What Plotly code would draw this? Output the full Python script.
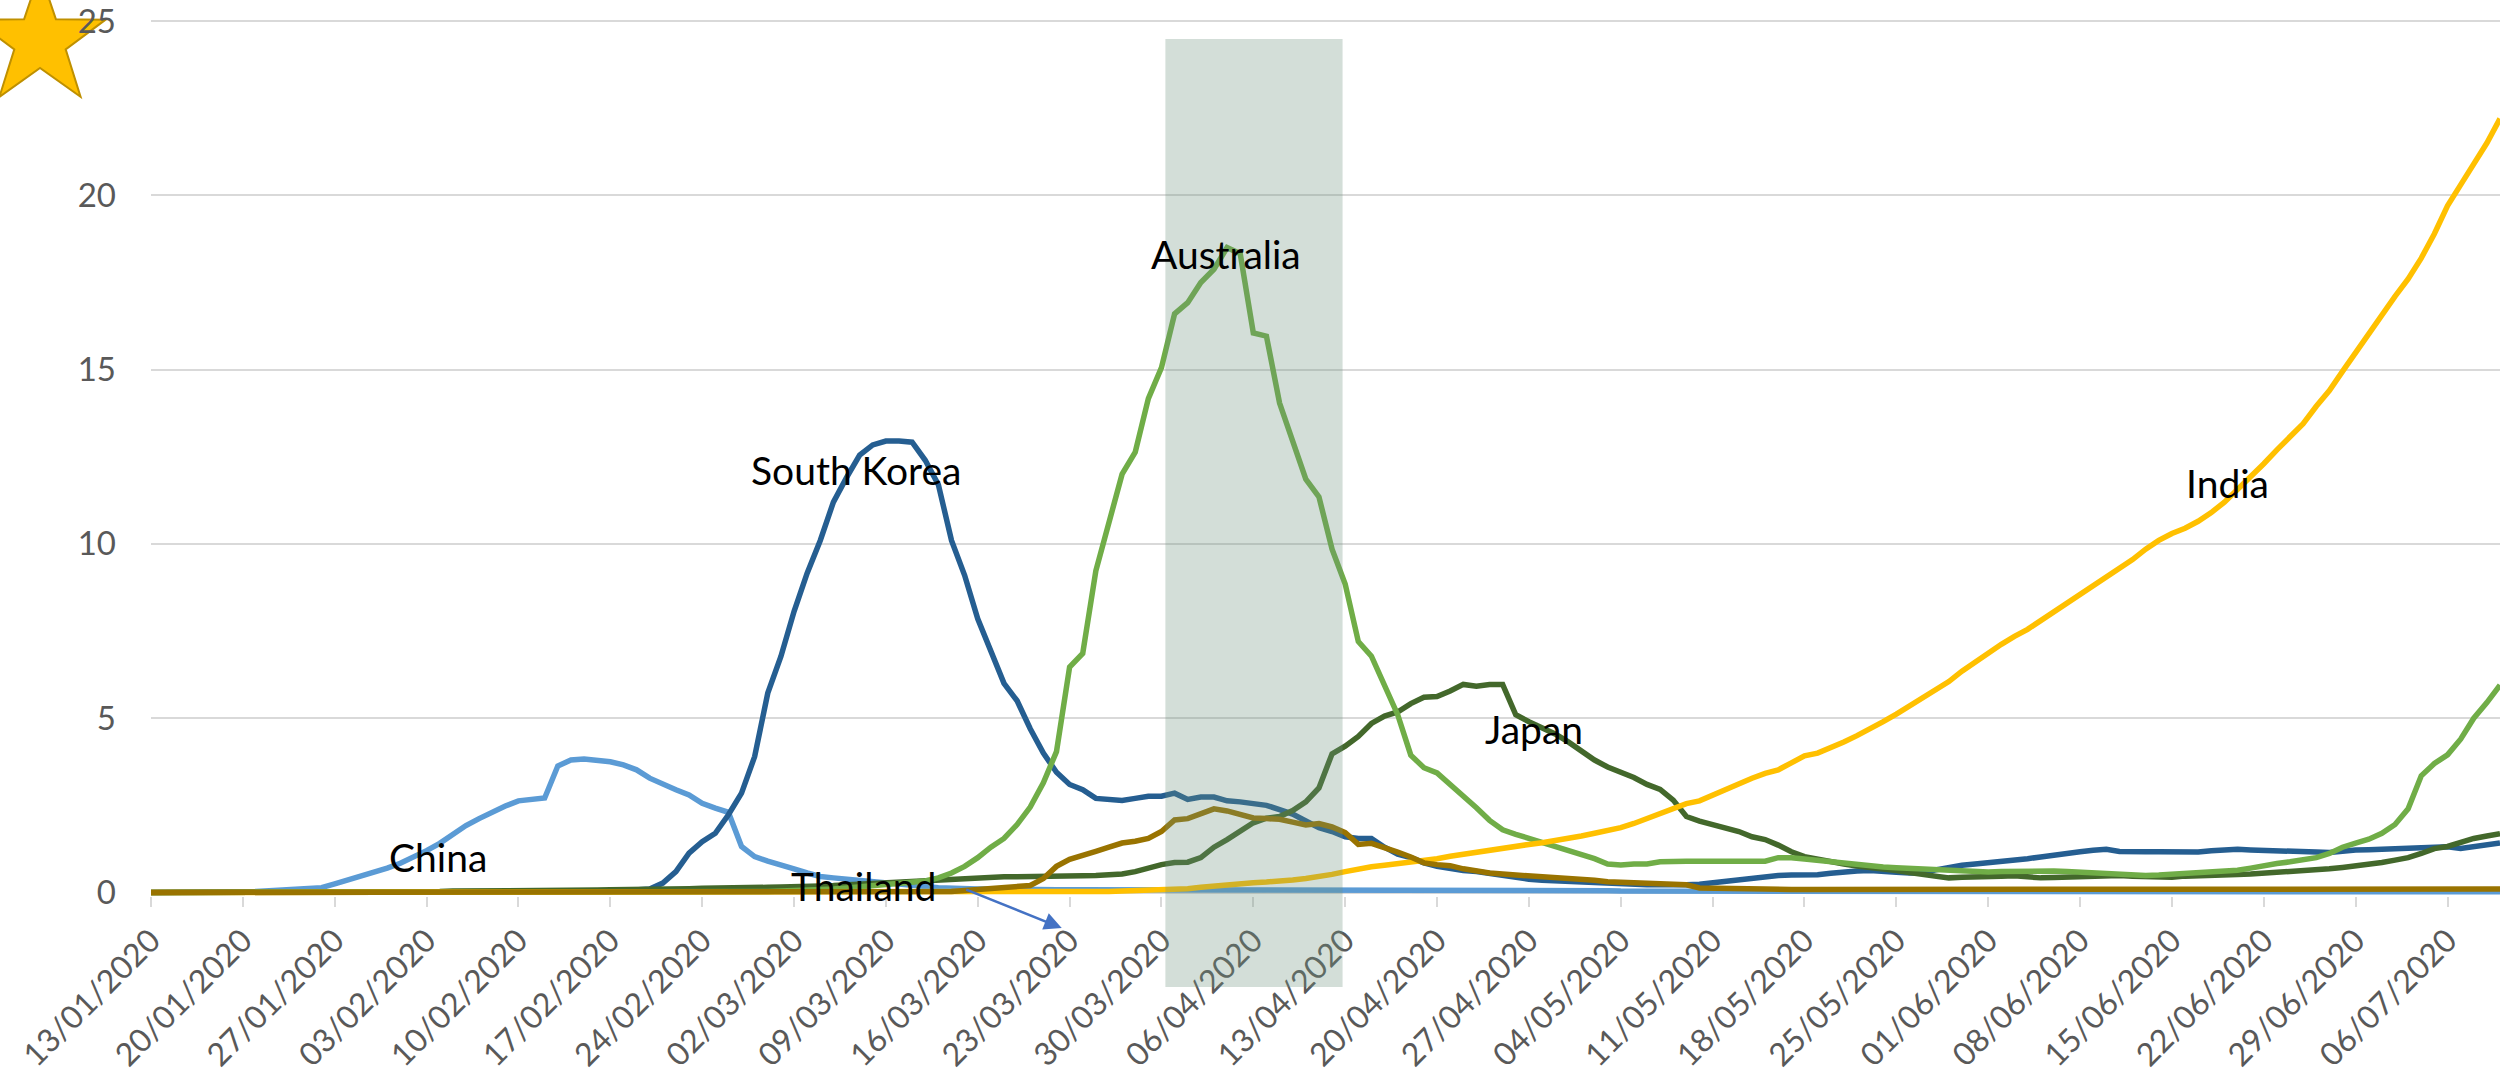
import math
import pandas as pd
import plotly.graph_objects as go

# ---- data: daily values from 13/01/2020 to 10/07/2020 ----
start = pd.Timestamp("2020-01-13")
dates = pd.date_range(start, periods=180, freq="D")

china = [
    0.00, 0.00, 0.00, 0.00, 0.00, 0.01, 0.01, 0.02, 0.03, 0.05,
    0.07, 0.09, 0.11, 0.14, 0.25, 0.36, 0.46, 0.57, 0.70, 0.84,
    1.00, 1.20, 1.41, 1.66, 1.92, 2.12, 2.32, 2.48, 2.63, 2.67,
    2.71, 3.63, 3.80, 3.83, 3.80, 3.75, 3.66, 3.52, 3.28, 3.10,
    2.95, 2.80, 2.56, 2.42, 2.30, 1.32, 1.03, 0.90, 0.81, 0.68,
    0.56, 0.46, 0.42, 0.38, 0.34, 0.30, 0.27, 0.24, 0.20, 0.17,
    0.14, 0.12, 0.11, 0.10, 0.10, 0.09, 0.09, 0.09, 0.08, 0.08,
    0.08, 0.08, 0.08, 0.07, 0.07, 0.07, 0.07, 0.07, 0.07, 0.07,
    0.07, 0.07, 0.07, 0.07, 0.07, 0.07, 0.07, 0.07, 0.07, 0.07,
    0.07, 0.07, 0.07, 0.07, 0.07, 0.07, 0.06, 0.06, 0.06, 0.06,
    0.06, 0.06, 0.06, 0.06, 0.05, 0.05, 0.05, 0.05, 0.05, 0.05,
    0.05, 0.05, 0.04, 0.04, 0.04, 0.04, 0.04, 0.04, 0.04, 0.04,
    0.04, 0.04, 0.03, 0.03, 0.03, 0.03, 0.03, 0.03, 0.03, 0.03,
    0.03, 0.03, 0.03, 0.03, 0.03, 0.03, 0.03, 0.03, 0.03, 0.03,
    0.03, 0.03, 0.03, 0.03, 0.03, 0.03, 0.03, 0.03, 0.03, 0.03,
    0.03, 0.02, 0.02, 0.02, 0.02, 0.02, 0.02, 0.02, 0.02, 0.02,
    0.02, 0.02, 0.02, 0.02, 0.02, 0.02, 0.02, 0.02, 0.02, 0.02,
    0.02, 0.02, 0.02, 0.02, 0.02, 0.02, 0.02, 0.02, 0.02, 0.02,
]

south_korea = [
    0.00, 0.00, 0.00, 0.00, 0.00, 0.00, 0.00, 0.01, 0.01, 0.01,
    0.01, 0.01, 0.01, 0.01, 0.01, 0.01, 0.01, 0.01, 0.02, 0.02,
    0.02, 0.02, 0.02, 0.02, 0.02, 0.02, 0.02, 0.02, 0.02, 0.02,
    0.02, 0.02, 0.02, 0.02, 0.02, 0.03, 0.05, 0.07, 0.10, 0.27,
    0.60, 1.13, 1.46, 1.70, 2.23, 2.85, 3.90, 5.72, 6.77, 8.06,
    9.16, 10.10, 11.20, 11.90, 12.55, 12.84, 12.95, 12.95, 12.92, 12.40,
    11.70, 10.10, 9.10, 7.85, 6.95, 6.00, 5.50, 4.70, 4.00, 3.45,
    3.10, 2.95, 2.70, 2.67, 2.64, 2.70, 2.76, 2.76, 2.85, 2.67,
    2.74, 2.74, 2.63, 2.60, 2.56, 2.50, 2.38, 2.25, 2.05, 1.86,
    1.75, 1.60, 1.55, 1.55, 1.30, 1.10, 1.00, 0.85, 0.75, 0.68,
    0.63, 0.60, 0.54, 0.48, 0.42, 0.38, 0.35, 0.33, 0.31, 0.30,
    0.28, 0.26, 0.25, 0.23, 0.22, 0.22, 0.21, 0.22, 0.24, 0.28,
    0.33, 0.38, 0.43, 0.46, 0.49, 0.50, 0.50, 0.51, 0.55, 0.60,
    0.62, 0.63, 0.62, 0.58, 0.56, 0.56, 0.65, 0.73, 0.78, 0.82,
    0.85, 0.90, 0.93, 0.97, 1.02, 1.08, 1.14, 1.17, 1.21, 1.24,
    1.18, 1.16, 1.17, 1.17, 1.17, 1.17, 1.16, 1.20, 1.23, 1.24,
    1.22, 1.20, 1.19, 1.18, 1.17, 1.16, 1.15, 1.19, 1.22, 1.23,
    1.24, 1.25, 1.26, 1.27, 1.27, 1.31, 1.26, 1.32, 1.38, 1.42,
]

japan = [
    0.00, 0.00, 0.00, 0.00, 0.00, 0.00, 0.00, 0.00, 0.00, 0.00,
    0.01, 0.01, 0.01, 0.01, 0.01, 0.01, 0.01, 0.02, 0.02, 0.02,
    0.03, 0.03, 0.03, 0.04, 0.04, 0.04, 0.04, 0.04, 0.05, 0.05,
    0.05, 0.06, 0.06, 0.07, 0.07, 0.08, 0.08, 0.09, 0.10, 0.10,
    0.11, 0.11, 0.12, 0.12, 0.13, 0.13, 0.14, 0.15, 0.16, 0.16,
    0.17, 0.19, 0.20, 0.22, 0.25, 0.27, 0.30, 0.32, 0.35, 0.37,
    0.38, 0.40, 0.42, 0.43, 0.45, 0.45, 0.45, 0.45, 0.46, 0.46,
    0.47, 0.48, 0.49, 0.51, 0.53, 0.60, 0.72, 0.80, 0.86, 0.87,
    1.00, 1.30, 1.52, 1.75, 2.00, 2.13, 2.18, 2.35, 2.60, 3.00,
    3.98, 4.20, 4.48, 4.85, 5.06, 5.18, 5.42, 5.60, 5.62, 5.78,
    5.97, 5.92, 5.97, 5.97, 5.10, 4.90, 4.74, 4.55, 4.32, 4.05,
    3.80, 3.60, 3.45, 3.30, 3.10, 2.96, 2.65, 2.18, 2.05, 1.95,
    1.84, 1.75, 1.60, 1.52, 1.36, 1.17, 1.03, 0.95, 0.88, 0.82,
    0.76, 0.73, 0.68, 0.63, 0.57, 0.52, 0.47, 0.42, 0.44, 0.46,
    0.46, 0.47, 0.48, 0.45, 0.42, 0.43, 0.45, 0.46, 0.47, 0.48,
    0.49, 0.47, 0.45, 0.44, 0.44, 0.47, 0.49, 0.50, 0.51, 0.52,
    0.53, 0.55, 0.57, 0.59, 0.61, 0.64, 0.68, 0.72, 0.76, 0.80,
    0.86, 0.93, 1.00, 1.12, 1.26, 1.32, 1.45, 1.55, 1.62, 1.69,
]

australia = [
    0.00, 0.00, 0.00, 0.00, 0.00, 0.00, 0.00, 0.00, 0.00, 0.00,
    0.00, 0.00, 0.00, 0.00, 0.00, 0.00, 0.00, 0.00, 0.00, 0.00,
    0.00, 0.00, 0.00, 0.00, 0.00, 0.01, 0.01, 0.01, 0.01, 0.01,
    0.01, 0.01, 0.01, 0.01, 0.01, 0.01, 0.01, 0.01, 0.01, 0.01,
    0.01, 0.01, 0.01, 0.02, 0.02, 0.02, 0.03, 0.03, 0.04, 0.05,
    0.06, 0.08, 0.10, 0.13, 0.16, 0.20, 0.24, 0.27, 0.30, 0.33,
    0.42, 0.56, 0.75, 1.00, 1.30, 1.55, 1.95, 2.45, 3.15, 4.04,
    6.47, 6.86, 9.23, 10.64, 12.00, 12.63, 14.17, 15.06, 16.60, 16.92,
    17.50, 17.88, 18.50, 18.33, 16.05, 15.96, 14.04, 12.95, 11.86, 11.35,
    9.85, 8.85, 7.20, 6.78, 5.93, 5.10, 3.94, 3.58, 3.43, 3.10,
    2.79, 2.43, 2.07, 1.80, 1.67, 1.56, 1.45, 1.33, 1.21, 1.09,
    0.97, 0.82, 0.79, 0.82, 0.82, 0.88, 0.90, 0.90, 0.90, 0.90,
    0.90, 0.90, 0.90, 0.90, 1.00, 1.00, 0.96, 0.92, 0.86, 0.82,
    0.79, 0.76, 0.73, 0.71, 0.69, 0.68, 0.66, 0.63, 0.61, 0.60,
    0.59, 0.60, 0.61, 0.62, 0.63, 0.62, 0.60, 0.58, 0.57, 0.54,
    0.52, 0.50, 0.49, 0.50, 0.52, 0.55, 0.57, 0.59, 0.61, 0.64,
    0.70, 0.78, 0.83, 0.88, 0.93, 1.00, 1.12, 1.30, 1.42, 1.53,
    1.70, 1.95, 2.40, 3.35, 3.70, 3.95, 4.40, 5.00, 5.45, 5.95,
]

india = [
    0.00, 0.00, 0.00, 0.00, 0.00, 0.00, 0.00, 0.00, 0.00, 0.00,
    0.00, 0.00, 0.00, 0.00, 0.00, 0.00, 0.00, 0.00, 0.00, 0.00,
    0.00, 0.00, 0.00, 0.00, 0.00, 0.00, 0.00, 0.00, 0.00, 0.00,
    0.00, 0.00, 0.00, 0.00, 0.00, 0.00, 0.00, 0.00, 0.00, 0.00,
    0.00, 0.00, 0.00, 0.00, 0.00, 0.00, 0.00, 0.00, 0.00, 0.00,
    0.00, 0.00, 0.00, 0.00, 0.00, 0.00, 0.00, 0.00, 0.00, 0.00,
    0.00, 0.00, 0.01, 0.01, 0.01, 0.01, 0.01, 0.01, 0.01, 0.02,
    0.02, 0.02, 0.03, 0.03, 0.04, 0.05, 0.05, 0.06, 0.08, 0.11,
    0.15, 0.19, 0.22, 0.25, 0.28, 0.30, 0.32, 0.36, 0.40, 0.45,
    0.52, 0.60, 0.68, 0.74, 0.78, 0.82, 0.86, 0.91, 0.97, 1.04,
    1.10, 1.17, 1.22, 1.28, 1.34, 1.38, 1.43, 1.48, 1.55, 1.62,
    1.70, 1.77, 1.86, 1.98, 2.12, 2.27, 2.40, 2.55, 2.63, 2.80,
    2.98, 3.12, 3.28, 3.42, 3.52, 3.72, 3.92, 4.00, 4.15, 4.32,
    4.50, 4.68, 4.90, 5.12, 5.35, 5.58, 5.80, 6.05, 6.35, 6.62,
    6.88, 7.12, 7.35, 7.55, 7.80, 8.05, 8.30, 8.52, 8.78, 9.05,
    9.30, 9.55, 9.85, 10.10, 10.30, 10.45, 10.65, 10.90, 11.20, 11.55,
    11.90, 12.30, 12.70, 13.05, 13.45, 13.95, 14.40, 14.95, 15.50, 16.05,
    16.60, 17.10, 17.60, 18.20, 18.90, 19.70, 20.30, 20.90, 21.50, 22.20,
]

thailand = [
    0.00, 0.00, 0.00, 0.00, 0.00, 0.00, 0.00, 0.00, 0.00, 0.00,
    0.00, 0.00, 0.00, 0.00, 0.00, 0.00, 0.00, 0.00, 0.00, 0.00,
    0.00, 0.00, 0.00, 0.00, 0.00, 0.00, 0.00, 0.00, 0.00, 0.00,
    0.00, 0.00, 0.00, 0.00, 0.00, 0.00, 0.00, 0.00, 0.00, 0.00,
    0.00, 0.00, 0.00, 0.00, 0.00, 0.00, 0.00, 0.00, 0.00, 0.00,
    0.00, 0.00, 0.01, 0.01, 0.01, 0.01, 0.01, 0.01, 0.01, 0.01,
    0.02, 0.03, 0.06, 0.09, 0.13, 0.15, 0.18, 0.20, 0.40, 0.75,
    0.95, 1.05, 1.18, 1.30, 1.42, 1.47, 1.55, 1.75, 2.08, 2.12,
    2.28, 2.40, 2.34, 2.25, 2.14, 2.12, 2.10, 2.02, 1.94, 1.98,
    1.88, 1.72, 1.38, 1.41, 1.30, 1.16, 1.02, 0.85, 0.80, 0.77,
    0.68, 0.60, 0.56, 0.53, 0.51, 0.48, 0.45, 0.42, 0.40, 0.38,
    0.35, 0.31, 0.29, 0.27, 0.25, 0.25, 0.24, 0.22, 0.13, 0.12,
    0.12, 0.11, 0.10, 0.10, 0.09, 0.09, 0.09, 0.09, 0.09, 0.09,
    0.09, 0.09, 0.09, 0.08, 0.08, 0.08, 0.08, 0.09, 0.09, 0.09,
    0.09, 0.09, 0.09, 0.10, 0.10, 0.10, 0.11, 0.11, 0.10, 0.10,
    0.09, 0.09, 0.09, 0.09, 0.08, 0.08, 0.08, 0.08, 0.08, 0.08,
    0.09, 0.09, 0.09, 0.09, 0.09, 0.09, 0.09, 0.09, 0.09, 0.09,
    0.09, 0.09, 0.09, 0.10, 0.10, 0.10, 0.10, 0.10, 0.10, 0.10,
]

tick_labels = [
    "13/01/2020", "20/01/2020", "27/01/2020", "03/02/2020", "10/02/2020",
    "17/02/2020", "24/02/2020", "02/03/2020", "09/03/2020", "16/03/2020",
    "23/03/2020", "30/03/2020", "06/04/2020", "13/04/2020", "20/04/2020",
    "27/04/2020", "04/05/2020", "11/05/2020", "18/05/2020", "25/05/2020",
    "01/06/2020", "08/06/2020", "15/06/2020", "22/06/2020", "29/06/2020",
    "06/07/2020",
]
tick_dates = pd.to_datetime(tick_labels, format="%d/%m/%Y")

series = [
    ("China", china, "#5B9BD5"),
    ("South Korea", south_korea, "#255E91"),
    ("Japan", japan, "#43682B"),
    ("Australia", australia, "#70AD47"),
    ("India", india, "#FFC000"),
    ("Thailand", thailand, "#997300"),
]

# ---- page geometry ----
W, H = 2509, 1074
ML, MR, MT, MB = 151, 9, 20, 178
PW, PH = W - ML - MR, H - MT - MB


def px_x(px):
    return (px - ML) / PW


def px_y(py):
    return (H - MB - py) / PH


def day(n):
    return start + pd.Timedelta(days=n)


FONT = "Lato, 'Open Sans', sans-serif"

fig = go.Figure()
for name, vals, color in series:
    fig.add_trace(go.Scatter(
        x=dates, y=vals, name=name, mode="lines",
        line=dict(color=color, width=5.5), hoverinfo="skip",
    ))

# highlighted fortnight
shapes = [dict(
    type="rect", xref="x", yref="paper",
    x0=day(77.3), x1=day(90.8), y0=px_y(987), y1=px_y(39),
    fillcolor="rgba(108,145,125,0.30)", line=dict(width=0), layer="above",
)]

# gold star in the corner, under the axis labels
cx, cy, r_out, r_in = 40, 41, 69, 27
pts = []
for i in range(10):
    a = math.radians(90 - 36 * i)
    r = r_out if i % 2 == 0 else r_in
    pts.append((px_x(cx + r * math.cos(a)), px_y(cy - r * math.sin(a))))
star_path = "M " + " L ".join(f"{x:.5f},{y:.5f}" for x, y in pts) + " Z"
shapes.append(dict(
    type="path", xref="paper", yref="paper", path=star_path,
    fillcolor="#FFC000", line=dict(color="#BF9000", width=2), layer="below",
))

# country labels
labels = [
    ("China", 21.9, 1.02),
    ("South Korea", 53.7, 12.12),
    ("Australia", 81.9, 18.33),
    ("Japan", 105.4, 4.7),
    ("India", 158.2, 11.75),
    ("Thailand", 54.3, 0.2),
]
annotations = [
    dict(x=day(d), y=v, xref="x", yref="y", text=t, showarrow=False,
         xanchor="center", yanchor="middle",
         font=dict(family=FONT, size=39, color="#000000"))
    for t, d, v in labels
]
# pointer from the Thailand label
annotations.append(dict(
    x=day(69.4), y=px_y(928), xref="x", yref="paper", text="",
    showarrow=True, axref="pixel", ayref="pixel", ax=-97, ay=-39,
    arrowhead=2, arrowsize=1.4, arrowwidth=2.5, arrowcolor="#4472C4",
    standoff=0,
))

fig.update_layout(
    width=W, height=H,
    margin=dict(l=ML, r=MR, t=MT, b=MB, pad=0, autoexpand=False),
    paper_bgcolor="white", plot_bgcolor="white",
    showlegend=False,
    font=dict(family=FONT, color="#595959"),
    shapes=shapes, annotations=annotations,
    xaxis=dict(
        type="date", range=[dates[0], dates[-1]], automargin=False,
        tickmode="array", tickvals=tick_dates, ticktext=tick_labels,
        tickangle=-45, ticks="outside", ticklen=10, tickwidth=2,
        tickcolor="#D9D9D9", showgrid=False, showline=False, zeroline=False,
        ticklabeloverflow="allow", ticklabelstandoff=2,
        tickfont=dict(family=FONT, size=32, color="#595959"),
        fixedrange=True,
    ),
    yaxis=dict(
        range=[-0.1, 25.03], tick0=0, dtick=5, showgrid=True, automargin=False,
        gridcolor="#D9D9D9", gridwidth=2, zeroline=True,
        zerolinecolor="#D9D9D9", zerolinewidth=2, showline=False,
        ticks="", ticklabelstandoff=34, ticklabeloverflow="allow",
        tickfont=dict(family=FONT, size=33, color="#595959"),
        fixedrange=True,
    ),
)

fig.write_html("out.html")
